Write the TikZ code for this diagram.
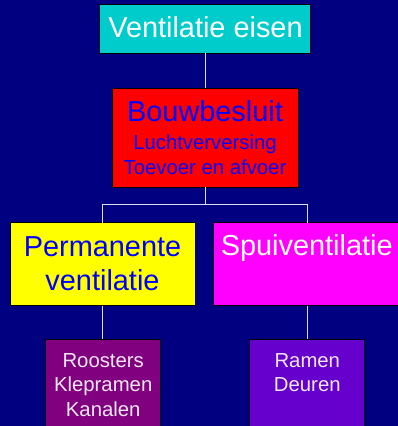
\documentclass[tikz,border=0pt]{standalone}
\usepackage{fontspec}
\setmainfont{Liberation Sans}
\usetikzlibrary{calc}
\definecolor{bgc}{HTML}{000080}
\definecolor{cyanbox}{HTML}{00CCCC}
\definecolor{redbox}{HTML}{FF0000}
\definecolor{bluetxt}{HTML}{0000FF}
\definecolor{yelbox}{HTML}{FFFF00}
\definecolor{magbox}{HTML}{FF00FF}
\definecolor{purbox}{HTML}{800080}
\definecolor{vioBox}{HTML}{6600CC}
\definecolor{linec}{HTML}{DDDDF0}
\definecolor{lighttxt}{HTML}{F0E8F0}
\begin{document}
\begin{tikzpicture}[x=1bp,y=-1bp,
  boxstyle/.style={draw=black,line width=1bp,inner sep=0pt,outer sep=0pt},
  big/.style={anchor=base,inner sep=0pt,font=\fontsize{29}{33}\selectfont},
  small/.style={anchor=base,inner sep=0pt,font=\fontsize{20.4}{24}\selectfont},
  conn/.style={draw=linec,line width=1bp}]
\useasboundingbox (0,0) rectangle (398,426);
\clip (0,0) rectangle (398,426);
\fill[bgc] (0,0) rectangle (398,426);
% boxes
\node[boxstyle,fill=cyanbox,minimum width=211bp,minimum height=49bp] (top) at (205.3,28.5) {};
\node[boxstyle,fill=redbox,minimum width=186bp,minimum height=99bp] (bouw) at (205.3,137.5) {};
\node[boxstyle,fill=yelbox,minimum width=185bp,minimum height=83bp] (perm) at (102.8,264.2) {};
\node[boxstyle,fill=magbox,minimum width=186bp,minimum height=83bp] (spui) at (307,264.2) {};
\node[boxstyle,fill=purbox,minimum width=115bp,minimum height=100bp] (roos) at (102.8,389.3) {};
\node[boxstyle,fill=vioBox,minimum width=115bp,minimum height=100bp] (ramen) at (307,389.3) {};
% connectors
\coordinate (split) at ($(bouw.south)+(0,17.5)$);
\draw[conn] (top.south) -- (bouw.north);
\draw[conn] (bouw.south) -- (split);
\draw[conn] (split) -| (perm.north);
\draw[conn] (split) -| (spui.north);
\draw[conn] (perm.south) -- (roos.north);
\draw[conn] (spui.south) -- (ramen.north);
% texts
\node[big,text=white] (t1) at (205.5,37.7) {Ventilatie eisen};
\node[big,text=bluetxt] (t2) at (205,121.7) {Bouwbesluit};
\node[small,text=bluetxt] (t3) at (205,149) {Luchtverversing};
\node[small,text=bluetxt] (t4) at (205,174) {Toevoer en afvoer};
\node[big,text=bluetxt] (t5) at (102.5,256) {Permanente};
\node[big,text=bluetxt] (t6) at (102.5,290) {ventilatie};
\node[big,text=white] (t7) at (306.7,255) {Spuiventilatie};
\node[small,text=lighttxt] (t8) at (103.2,367) {Roosters};
\node[small,text=lighttxt] (t9) at (103.2,391.7) {Klepramen};
\node[small,text=lighttxt] (t10) at (103.2,416) {Kanalen};
\node[small,text=lighttxt] (t11) at (307.3,367) {Ramen};
\node[small,text=lighttxt] (t12) at (307.3,391.7) {Deuren};
\end{tikzpicture}
\end{document}
